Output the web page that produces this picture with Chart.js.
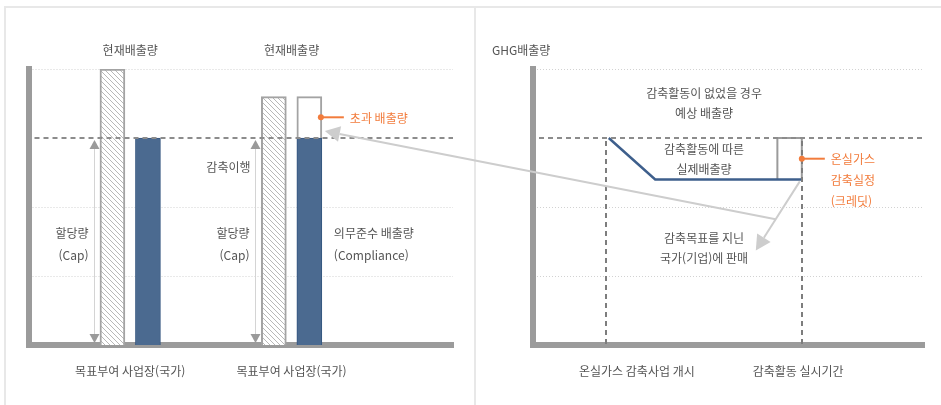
<!DOCTYPE html>
<html lang="ko">
<head>
<meta charset="utf-8">
<script src="https://cdn.jsdelivr.net/npm/chart.js@4.4.0/dist/chart.umd.min.js"></script>
<style>
  html, body { margin: 0; padding: 0; background: #fff; }
  #wrap { position: relative; width: 941px; height: 405px; overflow: hidden; }
  .frame { position: absolute; background: #e8e8e8; }
  canvas { position: absolute; left: 0; top: 0; }
</style>
</head>
<body>
<div id="wrap">
  <div class="frame" style="left:4px;top:6px;width:937px;height:2px"></div>
  <div class="frame" style="left:4px;top:6px;width:2px;height:399px"></div>
  <div class="frame" style="left:474px;top:6px;width:2px;height:399px"></div>
  <canvas id="capChart" width="470" height="405"></canvas>
  <canvas id="creditChart" width="941" height="405"></canvas>
</div>
<script>
// left panel: cap & trade
const siteLabels = ['목표부여 사업장(국가)', '목표부여 사업장(국가)'];
const sitePos = [1, 2];
const currentEmission = [4, 3.6];     // 현재배출량
const capAmount = [3, 3];             // 할당량 (Cap)
const complianceEmission = [3, 3];    // 의무준수 배출량
const excessEmission = [0, 0.6];      // 초과 배출량

// right panel: reduction project credit
const periodLabels = ['온실가스 감축사업 개시', '감축활동 실시기간'];
const periodTickPos = [4.25, 10.85];
const periodBounds = [3, 11];
const baselineEmission = 3;           // 감축활동이 없었을 경우 예상 배출량
const actualX = [3.1, 5, 11];
const actualY = [3, 2.4, 2.4];        // 감축활동에 따른 실제배출량
const creditFrom = 10;

const yGrid = [1, 2, 3, 4];

const FONT = "'Noto Sans CJK KR', 'Noto Sans', sans-serif";
const TEXT = '#555';
const ORANGE = '#f27c3c';
const AXIS = '#9b9b9b';
const ARROW = '#cdcdcd';
const BAR_OFF = 0.11;

function hatch() {
  const c = document.createElement('canvas');
  c.width = 5; c.height = 5;
  const g = c.getContext('2d');
  g.fillStyle = '#fff';
  g.fillRect(0, 0, 5, 5);
  g.strokeStyle = '#b8b8b8';
  g.lineWidth = 1;
  [[-1, -1, 6, 6], [-1, 4, 1, 6], [4, -1, 6, 1]].forEach(l => {
    g.beginPath(); g.moveTo(l[0], l[1]); g.lineTo(l[2], l[3]); g.stroke();
  });
  return g.createPattern(c, 'repeat');
}

function text(ctx, str, x, y, align, color) {
  ctx.font = '12px ' + FONT;
  ctx.fillStyle = color || TEXT;
  ctx.textAlign = align || 'center';
  ctx.textBaseline = 'middle';
  ctx.fillText(str, x, y);
}

function arrow(ctx, x0, y0, x1, y1, len, half, color) {
  const a = Math.atan2(y1 - y0, x1 - x0);
  const bx = x1 - Math.cos(a) * len, by = y1 - Math.sin(a) * len;
  ctx.strokeStyle = color;
  ctx.lineWidth = 2;
  ctx.beginPath(); ctx.moveTo(x0, y0); ctx.lineTo(bx, by); ctx.stroke();
  ctx.fillStyle = color;
  ctx.beginPath();
  ctx.moveTo(x1, y1);
  ctx.lineTo(bx + Math.sin(a) * half, by - Math.cos(a) * half);
  ctx.lineTo(bx - Math.sin(a) * half, by + Math.cos(a) * half);
  ctx.closePath(); ctx.fill();
}

function callout(ctx, x, y, lines) {
  ctx.save();
  ctx.strokeStyle = ORANGE; ctx.fillStyle = ORANGE; ctx.lineWidth = 2;
  ctx.beginPath(); ctx.moveTo(x, y); ctx.lineTo(x + 23, y); ctx.stroke();
  ctx.beginPath(); ctx.arc(x, y, 3, 0, Math.PI * 2); ctx.fill();
  lines.forEach((s, i) => text(ctx, s, x + 29, y + 1 + i * 21, 'left', ORANGE));
  ctx.restore();
}

// dotted grid behind, dashed reference level on top
function gridPlugin(level) {
  return {
    id: 'grid',
    beforeDatasetsDraw(chart) {
      const {ctx, chartArea: a, scales: {y}} = chart;
      ctx.save();
      ctx.strokeStyle = '#d2d2d2'; ctx.lineWidth = 1; ctx.setLineDash([1, 2]);
      yGrid.filter(v => v !== level).forEach(v => {
        const py = Math.round(y.getPixelForValue(v)) + 0.5;
        ctx.beginPath(); ctx.moveTo(a.left + 4, py); ctx.lineTo(a.right, py); ctx.stroke();
      });
      ctx.restore();
    },
    afterDatasetsDraw(chart) {
      const {ctx, chartArea: a, scales: {y}} = chart;
      const py = y.getPixelForValue(level);
      ctx.save();
      ctx.strokeStyle = '#8c8c8c'; ctx.lineWidth = 2; ctx.setLineDash([5, 4]);
      ctx.beginPath(); ctx.moveTo(a.left + 6, py); ctx.lineTo(a.right, py); ctx.stroke();
      ctx.restore();
    }
  };
}

const capNotes = {
  id: 'capNotes',
  afterDatasetsDraw(chart) {
    const {ctx, scales: {x, y}} = chart;
    ctx.save();
    sitePos.forEach((p, i) => {
      const gx = x.getPixelForValue(p);
      text(ctx, '현재배출량', gx, 50);
      // cap arrow beside the hatched bar
      const ax = Math.round(x.getPixelForValue(p - BAR_OFF) - 12.5 - 6) + 0.5;
      const top = y.getPixelForValue(capAmount[i]) + 2, bot = y.getPixelForValue(0) - 2;
      ctx.strokeStyle = '#d4d4d4'; ctx.lineWidth = 1;
      ctx.beginPath(); ctx.moveTo(ax, top + 6); ctx.lineTo(ax, bot - 6); ctx.stroke();
      ctx.fillStyle = '#9a9a9a';
      ctx.beginPath(); ctx.moveTo(ax, top); ctx.lineTo(ax - 5, top + 9); ctx.lineTo(ax + 5, top + 9); ctx.fill();
      ctx.beginPath(); ctx.moveTo(ax, bot); ctx.lineTo(ax - 5, bot - 9); ctx.lineTo(ax + 5, bot - 9); ctx.fill();
      text(ctx, '할당량', ax - 6, 233, 'right');
      text(ctx, '(Cap)', ax - 6, 255, 'right');
      if (i === 1) {
        text(ctx, '감축이행', ax - 5, 167, 'right');
        const bx = x.getPixelForValue(p + BAR_OFF) + 12.5;
        text(ctx, '의무준수 배출량', bx + 12, 233, 'left');
        text(ctx, '(Compliance)', bx + 12, 255, 'left');
        const my = y.getPixelForValue(complianceEmission[i] + excessEmission[i] / 2);
        callout(ctx, bx - 1, my, ['초과 배출량']);
      }
    });
    ctx.restore();
  }
};

const capChart = new Chart(document.getElementById('capChart'), {
  type: 'bar',
  data: {
    datasets: [
      {
        label: '현재배출량',
        data: sitePos.map((p, i) => ({x: p - BAR_OFF, y: currentEmission[i]})),
        backgroundColor: hatch(),
        borderColor: '#a3a3a3',
        borderWidth: 2
      },
      {
        label: '의무준수 배출량',
        data: sitePos.map((p, i) => ({x: p + BAR_OFF, y: complianceEmission[i]})),
        backgroundColor: '#4b6a90',
        borderColor: '#34557f',
        borderWidth: 1
      },
      {
        label: '초과 배출량',
        data: sitePos.map((p, i) => ({x: p + BAR_OFF, y: [complianceEmission[i], complianceEmission[i] + excessEmission[i]]}))
          .filter((d, i) => excessEmission[i] > 0),
        backgroundColor: '#fff',
        borderColor: '#a3a3a3',
        borderWidth: 2
      }
    ]
  },
  options: {
    responsive: false,
    animation: false,
    layout: { padding: { left: 28.5, top: 69, right: 17, bottom: 0 } },
    plugins: { legend: { display: false }, tooltip: { enabled: false } },
    datasets: { bar: { grouped: false, barThickness: 25 } },
    scales: {
      x: {
        type: 'linear', min: 0.37, max: 3, offset: false,
        grid: { display: false, drawTicks: false },
        border: { color: AXIS, width: 6 },
        afterBuildTicks: s => { s.ticks = sitePos.map(v => ({value: v})); },
        ticks: {
          callback: (v, i) => siteLabels[i],
          padding: 19, color: TEXT, font: { family: FONT, size: 12 },
          maxRotation: 0, autoSkip: false
        },
        afterFit: s => { s.height = 60; }
      },
      y: {
        min: 0, max: 4,
        grid: { display: false, drawTicks: false },
        border: { color: AXIS, width: 6 },
        ticks: { display: false },
        afterFit: s => { s.width = 0; }
      }
    }
  },
  plugins: [gridPlugin(capAmount[0]), capNotes]
});

const creditNotes = {
  id: 'creditNotes',
  afterDatasetsDraw(chart) {
    const {ctx, scales: {x, y}} = chart;
    ctx.save();
    // project start / end markers
    ctx.strokeStyle = '#7d7d7d'; ctx.lineWidth = 2; ctx.setLineDash([5, 4]);
    periodBounds.forEach(v => {
      const px = Math.round(x.getPixelForValue(v));
      ctx.beginPath(); ctx.moveTo(px, y.getPixelForValue(baselineEmission) + 3); ctx.lineTo(px, y.getPixelForValue(0)); ctx.stroke();
    });
    ctx.setLineDash([]);
    ctx.restore();
    ctx.save();
    text(ctx, 'GHG배출량', 492, 50, 'left');
    const cx = x.getPixelForValue(7);
    text(ctx, '감축활동이 없었을 경우', cx, 93);
    text(ctx, '예상 배출량', cx, 113);
    text(ctx, '감축활동에 따른', cx, 149);
    text(ctx, '실제배출량', cx, 169);
    text(ctx, '감축목표를 지닌', cx, 238);
    text(ctx, '국가(기업)에 판매', cx, 258);

    const ex = x.getPixelForValue(periodBounds[1]);
    const midY = y.getPixelForValue((baselineEmission + actualY[actualY.length - 1]) / 2);
    callout(ctx, ex, midY, ['온실가스', '감축실정', '(크레딧)']);

    // credit sold: arrows
    const sx = ex - 2, sy = y.getPixelForValue(actualY[actualY.length - 1]) + 2;
    const tx = sx - 44, ty = sy + 69;
    arrow(ctx, sx, sy, tx, ty, 15, 8, ARROW);
    const bx = sx + (tx - sx) * 0.55, by = sy + (ty - sy) * 0.55;
    const lx = capChart.scales.x.getPixelForValue(sitePos[1] + BAR_OFF) + 12.5 + 3;
    const ly = capChart.scales.y.getPixelForValue(complianceEmission[1] + 0.1);
    arrow(ctx, bx, by, lx, ly, 15, 8, ARROW);
    ctx.restore();
  }
};

new Chart(document.getElementById('creditChart'), {
  type: 'line',
  data: {
    datasets: [
      {
        label: '감축활동에 따른 실제배출량',
        data: actualX.map((v, i) => ({x: v, y: actualY[i]})),
        borderColor: '#3e5f8c',
        borderWidth: 2.5,
        pointRadius: 0
      },
      {
        label: '온실가스 감축실정',
        data: [
          {x: creditFrom, y: actualY[actualY.length - 1]},
          {x: creditFrom, y: baselineEmission},
          {x: periodBounds[1], y: baselineEmission},
          {x: periodBounds[1], y: actualY[actualY.length - 1]}
        ],
        borderColor: '#9b9b9b',
        borderWidth: 2,
        pointRadius: 0
      }
    ]
  },
  options: {
    responsive: false,
    animation: false,
    layout: { padding: { left: 533, top: 69, right: 17, bottom: 0 } },
    plugins: { legend: { display: false }, tooltip: { enabled: false } },
    scales: {
      x: {
        type: 'linear', min: 0, max: 16,
        grid: { display: false, drawTicks: false },
        border: { color: AXIS, width: 6 },
        afterBuildTicks: s => { s.ticks = periodTickPos.map(v => ({value: v})); },
        ticks: {
          callback: (v, i) => periodLabels[i],
          padding: 19, color: TEXT, font: { family: FONT, size: 12 },
          maxRotation: 0, autoSkip: false
        },
        afterFit: s => { s.height = 60; }
      },
      y: {
        min: 0, max: 4,
        grid: { display: false, drawTicks: false },
        border: { color: AXIS, width: 6 },
        ticks: { display: false },
        afterFit: s => { s.width = 0; }
      }
    }
  },
  plugins: [gridPlugin(baselineEmission), creditNotes]
});
</script>
</body>
</html>
